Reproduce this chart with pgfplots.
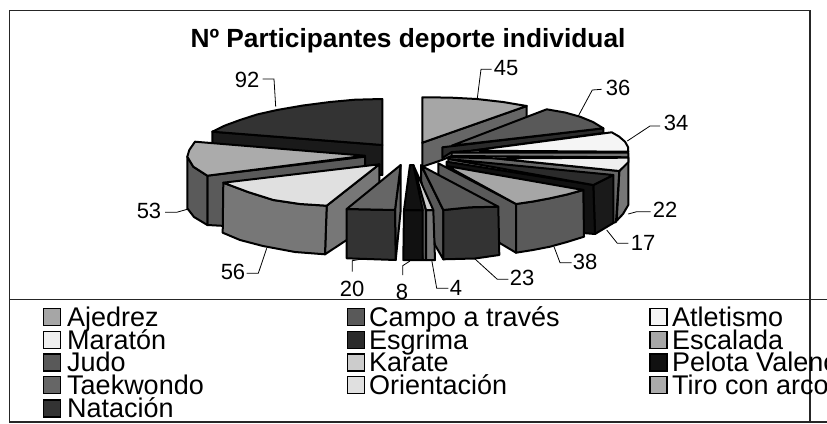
\documentclass[border=0pt]{standalone}
\usepackage{fontspec}
\setmainfont{Liberation Sans}
\usepackage{pgfplots}
\pgfplotsset{compat=1.18}
\definecolor{cAj}{HTML}{A6A6A6}
\definecolor{cCa}{HTML}{595959}
\definecolor{cAt}{HTML}{F5F5F5}
\definecolor{cMa}{HTML}{EFEFEF}
\definecolor{cEs}{HTML}{2B2B2B}
\definecolor{cEc}{HTML}{A6A6A6}
\definecolor{cJu}{HTML}{595959}
\definecolor{cKa}{HTML}{CCCCCC}
\definecolor{cPe}{HTML}{111111}
\definecolor{cTa}{HTML}{666666}
\definecolor{cOr}{HTML}{E0E0E0}
\definecolor{cTi}{HTML}{ABABAB}
\definecolor{cNa}{HTML}{333333}
\definecolor{sMid}{HTML}{777777}
\definecolor{sDk}{HTML}{5A5A5A}
\definecolor{sBl}{HTML}{1A1A1A}
\newcommand{\face}[2]{\addplot[fill=#1,draw=black,line width=2pt,line join=round] coordinates {#2} -- cycle;}
\newcommand{\lead}[1]{\addplot[draw=black,line width=0.8pt] coordinates {#1};}
\newcommand{\rul}[1]{\addplot[draw=black!85,line width=1.2pt] coordinates {#1};}
\newcommand{\lab}[2]{\node[font=\fontsize{22}{22}\selectfont,inner sep=0pt] at (axis cs:#1) {#2};}
\begin{document}
\begin{tikzpicture}[x=1pt,y=1pt]
\path[use as bounding box,clip] (0,0) rectangle (827,423);
\begin{axis}[at={(0pt,0pt)},anchor=south west,width=827pt,height=423pt,scale only axis,
 xmin=0,xmax=827,ymin=0,ymax=423,y dir=reverse,hide axis,clip=false]
% frame
\rul{(9,10.5) (810,10.5)}
\rul{(9.5,10) (9.5,422)}
\rul{(9,422) (827,422)}
\rul{(9,299.5) (827,299.5)}
\rul{(810,10) (810,423)}
% Natacion
\face{sBl}{(212.3,131.7) (382.3,145) (382.3,175) (212.3,165)}
\face{cNa}{(382.3,99) (355,99.7) (330,102) (303,105.5) (277,110) (257,114.5) (240,120) (225,125.5) (212.3,131.7) (382.3,145)}
% Tiro con arco
\face{sDk}{(207.3,175.7) (365,156.7) (365,165) (300,230) (207.3,225)}
\face{sDk}{(187.3,156.7) (193.3,166.7) (207.3,175.7) (207.3,225) (194,217) (187.3,208.3)}
\face{cTi}{(195,141.7) (365,155.7) (207.3,175.7) (193.3,166.7) (187.3,156.7) (189.3,150)}
% Orientacion
\face{sMid}{(326.7,205.7) (379.3,164.3) (379.3,206) (346.7,240) (325,254.3)}
\face{sMid}{(223.3,182.7) (248,192) (273.3,200) (300,204) (326.7,205.7) (325,254.3) (295,252) (263,246) (240,240) (222.7,232.7)}
\face{cOr}{(223.3,182.7) (248,192) (273.3,200) (300,204) (326.7,205.7) (379.3,164.3)}
% Taekwondo
\face{cTa}{(400.7,165) (395,210) (395.7,260) (400.7,210)}
\face{cNa}{(346.7,209) (395,210) (395.7,260) (346.7,258.3)}
\face{cTa}{(400.7,165) (395,210) (346.7,209)}
% Ajedrez
\face{cTa}{(422.3,142.7) (526.7,106) (526.7,115) (526.7,125) (442,160) (422.3,166.7)}
\face{cAj}{(422.3,97.3) (450,97.6) (476.7,99) (503,102) (526.7,106) (422.3,142.7)}
% Campo a traves
\face{cEs}{(442.3,147.3) (603.3,128.3) (603.3,133) (471.7,150.7) (451.7,152) (442.3,158)}
\face{cCa}{(546.7,109.3) (565,112.5) (580,116.7) (593,122) (603.3,128.3) (451.7,145.7)}
% Atletismo
\face{cAt}{(471.7,150.7) (611.7,132.3) (619,136.5) (625,141.7) (628,147) (628.3,151.7)}
\face{sMid}{(451.7,152.7) (628.3,152.7) (628.3,157.3) (451.7,156)}
% Maraton
\face{sMid}{(628.3,157.7) (628.3,205) (623,214) (616.7,220.7) (619.3,171)}
\face{cTa}{(448.3,157.3) (495,158.3) (619.3,171) (616,222) (610,224) (448.3,172)}
\face{cMa}{(495,158.3) (628.3,157.7) (628.3,162.3) (619.3,171)}
% Esgrima
\face{sBl}{(613.3,175) (593.3,185) (595,234) (613.3,223)}
\face{cPe}{(446.7,161.7) (593.3,185) (595,234) (583,233) (583,190) (446.7,175)}
\face{cEs}{(448.3,159) (613.3,175) (593.3,185)}
% Escalada
\face{sDk}{(438.3,163.3) (516,204) (516,252.7) (498,242) (438.3,175)}
\face{sDk}{(516,204) (533,201.5) (550,198.3) (567,194.5) (583.3,190) (584,236.7) (567,242) (550,246.7) (533,250) (516,252.7)}
\face{cEc}{(446.7,166) (583.3,190) (567,194.5) (550,198.3) (533,201.5) (516,204)}
% Judo
\face{cCa}{(421,165) (443.3,210) (443.3,259.3) (435,245) (421,180)}
\face{cNa}{(443.3,210) (470,207.3) (498.3,206.7) (499.3,255) (475,258.5) (443.3,259.3)}
\face{cCa}{(421.7,166) (498.3,206.7) (470,207.3) (443.3,210)}
% Karate
\face{cCa}{(413.3,165) (426,210) (426,260) (422.7,260)}
\face{sMid}{(426,210) (433.3,210) (435,260) (426,260)}
\face{cKa}{(413.3,165) (433.3,210) (426,210)}
% Pelota Valenciana
\face{cPe}{(404,210) (422.7,210) (422.7,260) (403.3,260)}
\face{cPe}{(410,165) (413.3,165) (422.7,210) (404,210)}
% leader lines
\lead{(491.7,69.3) (481,69.3) (477.3,98.3)}
\lead{(601.7,89.3) (592.3,90) (578.3,116)}
\lead{(660,126) (650,126) (627.3,141)}
\lead{(650.7,211.7) (636.7,211.7) (628.3,214)}
\lead{(628.3,243.3) (617.3,243.3) (606.7,230)}
\lead{(571.7,262.7) (560,262.7) (554,246.7)}
\lead{(508.3,279.3) (497.3,279.3) (475,259)}
\lead{(448.3,288.3) (436.7,288.3) (431.7,260)}
\lead{(402.7,275) (402.7,265.7) (410,261)}
\lead{(352.3,271.7) (352.3,260.7) (360,259.3)}
\lead{(246.7,273.3) (258.3,273.3) (266.7,248.3)}
\lead{(165,212.3) (176.7,212.3) (188.3,209)}
\lead{(262.7,79) (274,79) (275.7,106.7)}
% labels
\lab{506,68}{45}
\lab{618,88}{36}
\lab{676,123}{34}
\lab{665,210}{22}
\lab{643,243}{17}
\lab{585,262}{38}
\lab{522,278}{23}
\lab{456,288}{4}
\lab{402,292}{8}
\lab{352,289}{20}
\lab{233,272}{56}
\lab{149,211}{53}
\lab{247,80}{92}
% title
\node[font=\fontsize{26.3}{26.3}\selectfont\bfseries,inner sep=0pt] at (axis cs:408,41) {Nº Participantes deporte individual};
% legend
\addplot[fill=cAj,draw=black,line width=1.5pt] coordinates {(43.5,308.5) (60.5,308.5) (60.5,325.5) (43.5,325.5)} -- cycle;
\addplot[fill=cMa,draw=black,line width=1.5pt] coordinates {(43.5,331.5) (60.5,331.5) (60.5,348.5) (43.5,348.5)} -- cycle;
\addplot[fill=cCa,draw=black,line width=1.5pt] coordinates {(43.5,354) (60.5,354) (60.5,371) (43.5,371)} -- cycle;
\addplot[fill=cTa,draw=black,line width=1.5pt] coordinates {(43.5,376.5) (60.5,376.5) (60.5,393.5) (43.5,393.5)} -- cycle;
\addplot[fill=cNa,draw=black,line width=1.5pt] coordinates {(43.5,400) (60.5,400) (60.5,417) (43.5,417)} -- cycle;
\addplot[fill=cCa,draw=black,line width=1.5pt] coordinates {(347.5,308.5) (364.5,308.5) (364.5,325.5) (347.5,325.5)} -- cycle;
\addplot[fill=cEs,draw=black,line width=1.5pt] coordinates {(347.5,331.5) (364.5,331.5) (364.5,348.5) (347.5,348.5)} -- cycle;
\addplot[fill=cKa,draw=black,line width=1.5pt] coordinates {(347.5,354) (364.5,354) (364.5,371) (347.5,371)} -- cycle;
\addplot[fill=cOr,draw=black,line width=1.5pt] coordinates {(347.5,376.5) (364.5,376.5) (364.5,393.5) (347.5,393.5)} -- cycle;
\addplot[fill=cAt,draw=black,line width=1.5pt] coordinates {(650,308.5) (667,308.5) (667,325.5) (650,325.5)} -- cycle;
\addplot[fill=cEc,draw=black,line width=1.5pt] coordinates {(650,331.5) (667,331.5) (667,348.5) (650,348.5)} -- cycle;
\addplot[fill=cPe,draw=black,line width=1.5pt] coordinates {(650,354) (667,354) (667,371) (650,371)} -- cycle;
\addplot[fill=cTi,draw=black,line width=1.5pt] coordinates {(650,376.5) (667,376.5) (667,393.5) (650,393.5)} -- cycle;
\begingroup
\def\lt#1#2#3{\node[font=\fontsize{27}{27}\selectfont,inner sep=0pt,anchor=base west] at (axis cs:#1,#2) {#3};}
\lt{67}{326}{Ajedrez}
\lt{67}{349}{Maratón}
\lt{67}{371.5}{Judo}
\lt{67}{394}{Taekwondo}
\lt{67}{417}{Natación}
\lt{369}{326}{Campo a través}
\lt{369}{349}{Esgrima}
\lt{369}{371.5}{Karate}
\lt{369}{394}{Orientación}
\lt{672}{326}{Atletismo}
\lt{672}{349}{Escalada}
\lt{672}{371.5}{Pelota Valenciana}
\lt{672}{394}{Tiro con arco}
\endgroup
\end{axis}
\end{tikzpicture}
\end{document}
